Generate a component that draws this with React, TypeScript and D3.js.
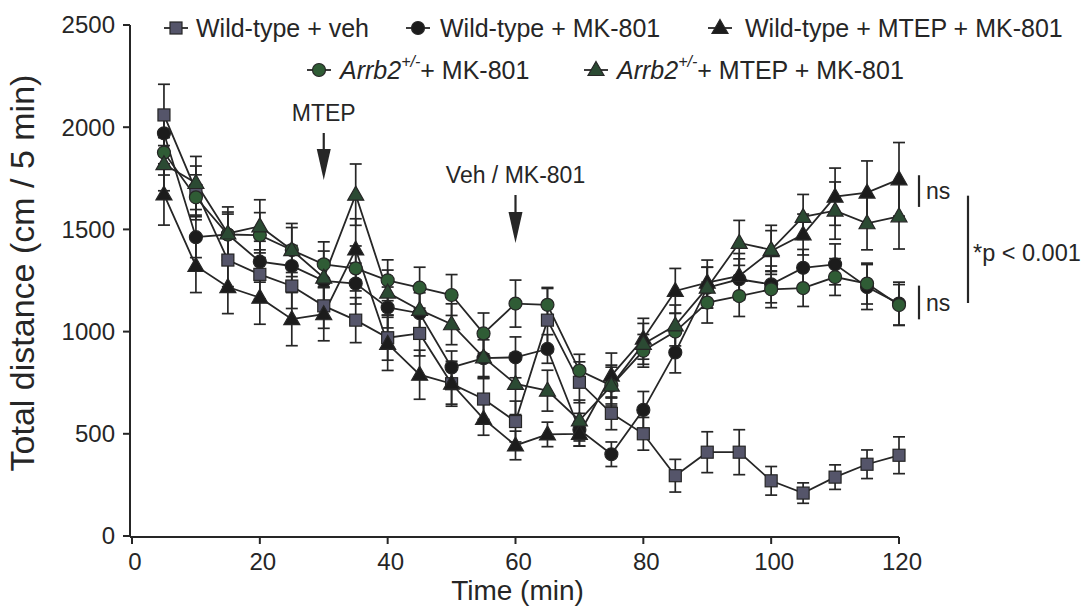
import React from "react";
import * as d3 from "d3";

const times = [5, 10, 15, 20, 25, 30, 35, 40, 45, 50, 55, 60, 65, 70, 75, 80, 85, 90, 95, 100, 105, 110, 115, 120];

const wtVeh = [2060, 1690, 1350, 1280, 1223, 1126, 1056, 970, 991, 745, 670, 560, 1056, 752, 600, 500, 295, 410, 410, 270, 210, 288, 351, 395];
const wtVehErr = [150, 120, 130, 120, 110, 110, 110, 110, 110, 110, 100, 100, 155, 100, 80, 80, 80, 100, 110, 70, 50, 60, 70, 90];

const wtMk = [1970, 1462, 1475, 1342, 1321, 1248, 1235, 1118, 1090, 825, 870, 874, 915, 520, 400, 617, 898, 1215, 1256, 1231, 1312, 1329, 1218, 1137];
const wtMkErr = [110, 100, 100, 100, 100, 100, 100, 100, 100, 80, 90, 100, 70, 80, 60, 90, 100, 100, 100, 90, 90, 100, 110, 105];

const wtMtep = [1671, 1321, 1218, 1166, 1061, 1085, 1402, 940, 789, 745, 573, 443, 497, 500, 785, 965, 1199, 1240, 1272, 1394, 1475, 1660, 1680, 1745];
const wtMtepErr = [150, 130, 130, 130, 130, 130, 150, 130, 120, 100, 80, 70, 60, 60, 110, 100, 110, 110, 110, 100, 100, 140, 155, 180];

const arMk = [1876, 1657, 1475, 1472, 1399, 1329, 1309, 1251, 1215, 1179, 991, 1137, 1131, 809, 736, 906, 1000, 1142, 1174, 1207, 1213, 1267, 1235, 1130];
const arMkErr = [110, 110, 110, 110, 110, 110, 110, 100, 100, 100, 100, 115, 85, 80, 90, 80, 90, 100, 100, 90, 90, 90, 100, 100];

const arMtep = [1819, 1727, 1480, 1515, 1399, 1264, 1670, 1191, 1106, 1036, 874, 744, 711, 565, 736, 940, 1030, 1215, 1434, 1400, 1561, 1592, 1530, 1564];
const arMtepErr = [130, 130, 130, 130, 130, 130, 150, 110, 100, 100, 100, 150, 100, 100, 100, 100, 100, 100, 110, 120, 110, 140, 130, 160];

const xTicks = [0, 20, 40, 60, 80, 100, 120];
const yTicks = [0, 500, 1000, 1500, 2000, 2500];

// injection arrows
const arrowTimes = [30, 60];
const arrowLabels = ["MTEP", "Veh / MK-801"];

// significance brackets: [low value, high value]
const nsUpper = [1610, 1765];
const nsLower = [1060, 1225];
const sigBig = [1140, 1665];

const FONT = "'Liberation Sans', Arial, Helvetica, sans-serif";
const INK = "#262626";

type Shape = "square" | "circle" | "triangle";
interface Series { name: string; vals: number[]; errs: number[]; shape: Shape; fill: string; }

const series: Series[] = [
  { name: "wtVeh", vals: wtVeh, errs: wtVehErr, shape: "square", fill: "#55556a" },
  { name: "wtMk", vals: wtMk, errs: wtMkErr, shape: "circle", fill: "#1c1c1c" },
  { name: "wtMtep", vals: wtMtep, errs: wtMtepErr, shape: "triangle", fill: "#1c1c1c" },
  { name: "arMk", vals: arMk, errs: arMkErr, shape: "circle", fill: "#2f5c35" },
  { name: "arMtep", vals: arMtep, errs: arMtepErr, shape: "triangle", fill: "#2b4a33" },
];

function Marker({ shape, x, y, fill }: { shape: Shape; x: number; y: number; fill: string }) {
  if (shape === "square") {
    return <rect x={x - 6} y={y - 6} width={12} height={12} fill={fill} stroke={INK} strokeWidth={1.2} />;
  }
  if (shape === "circle") {
    return <circle cx={x} cy={y} r={6.5} fill={fill} stroke={INK} strokeWidth={1.2} />;
  }
  const p = d3.path();
  p.moveTo(x, y - 8.5);
  p.lineTo(x + 8, y + 5.5);
  p.lineTo(x - 8, y + 5.5);
  p.closePath();
  return <path d={p.toString()} fill={fill} stroke={INK} strokeWidth={1.2} />;
}

export default function App() {
  const W = 1091, H = 609;
  const x = d3.scaleLinear().domain([0, 120]).range([132, 899]);
  const y = d3.scaleLinear().domain([0, 2500]).range([536, 25]);
  const axisX = 130;
  const line = d3.line<number>().x((_, i) => x(times[i])).y((v) => y(v));
  const cap = 6;

  const legendRow1 = [
    { s: series[0], mx: 176, tx: 196, label: "Wild-type + veh" },
    { s: series[1], mx: 418, tx: 440, label: "Wild-type + MK-801" },
    { s: series[2], mx: 720, tx: 745, label: "Wild-type + MTEP + MK-801" },
  ];
  const legendRow2 = [
    { s: series[3], mx: 319, tx: 340, label: "+ MK-801" },
    { s: series[4], mx: 596, tx: 617, label: "+ MTEP + MK-801" },
  ];

  return (
    <svg width={W} height={H} style={{ position: "absolute", left: 0, top: 0, background: "#fff" }} fontFamily={FONT}>
      <rect width={W} height={H} fill="#fff" />
      {/* axes */}
      <line x1={axisX} x2={axisX} y1={y(2500)} y2={y(0) + 1} stroke={INK} strokeWidth={2} />
      <line x1={axisX} x2={x(120)} y1={y(0) + 1} y2={y(0) + 1} stroke={INK} strokeWidth={2} />
      {yTicks.map((t) => (
        <g key={"yt" + t}>
          <line x1={axisX - 7} x2={axisX} y1={y(t)} y2={y(t)} stroke={INK} strokeWidth={2} />
          <text x={axisX - 15} y={y(t)} dy="0.35em" textAnchor="end" fontSize={24} fill={INK}>{t}</text>
        </g>
      ))}
      {xTicks.map((t) => (
        <g key={"xt" + t}>
          <line x1={x(t)} x2={x(t)} y1={y(0) + 1} y2={y(0) + 8} stroke={INK} strokeWidth={2} />
          <text x={x(t) + 3} y={y(0) + 34} textAnchor="middle" fontSize={24} fill={INK}>{t}</text>
        </g>
      ))}
      <text x={x(60) + 2} y={600} textAnchor="middle" fontSize={28} fill={INK}>Time (min)</text>
      <text transform={`translate(34, 273) rotate(-90)`} textAnchor="middle" fontSize={34} fill={INK}>
        Total distance (cm / 5 min)
      </text>

      {/* error bars */}
      {series.map((s) => (
        <g key={"e" + s.name} stroke={INK} strokeWidth={1.7}>
          {s.vals.map((v, i) => {
            const cx = x(times[i]);
            const top = y(v + s.errs[i]);
            const bot = y(v - s.errs[i]);
            return (
              <g key={i}>
                <line x1={cx} x2={cx} y1={top} y2={bot} />
                <line x1={cx - cap} x2={cx + cap} y1={top} y2={top} />
                <line x1={cx - cap} x2={cx + cap} y1={bot} y2={bot} />
              </g>
            );
          })}
        </g>
      ))}
      {/* lines */}
      {series.map((s) => (
        <path key={"l" + s.name} d={line(s.vals) || ""} fill="none" stroke={INK} strokeWidth={1.8} />
      ))}
      {/* markers */}
      {series.map((s) => (
        <g key={"m" + s.name}>
          {s.vals.map((v, i) => (
            <Marker key={i} shape={s.shape} x={x(times[i])} y={y(v)} fill={s.fill} />
          ))}
        </g>
      ))}

      {/* arrows */}
      {arrowTimes.map((t, k) => {
        const ax = x(t);
        const top = k === 0 ? 133 : 195;
        const tip = k === 0 ? 180 : 243;
        return (
          <g key={"a" + t}>
            <text x={ax} y={top - 12} textAnchor="middle" fontSize={23} fill={INK}>{arrowLabels[k]}</text>
            <line x1={ax} x2={ax} y1={top} y2={tip - 28} stroke={INK} strokeWidth={2.2} />
            <path d={`M${ax - 7},${tip - 31} L${ax + 7},${tip - 31} L${ax},${tip} Z`} fill={INK} />
          </g>
        );
      })}

      {/* significance */}
      <line x1={919} x2={919} y1={y(nsUpper[1])} y2={y(nsUpper[0])} stroke={INK} strokeWidth={2.2} />
      <text x={926} y={(y(nsUpper[0]) + y(nsUpper[1])) / 2} dy="0.35em" fontSize={23} fill={INK}>ns</text>
      <line x1={919} x2={919} y1={y(nsLower[1])} y2={y(nsLower[0])} stroke={INK} strokeWidth={2.2} />
      <text x={926} y={(y(nsLower[0]) + y(nsLower[1])) / 2} dy="0.35em" fontSize={23} fill={INK}>ns</text>
      <line x1={968} x2={968} y1={y(sigBig[1])} y2={y(sigBig[0])} stroke={INK} strokeWidth={2.2} />
      <text x={973} y={(y(sigBig[0]) + y(sigBig[1])) / 2 + 3} dy="0.35em" fontSize={23.5} fill={INK}>*p &lt; 0.001</text>

      {/* legend */}
      {legendRow1.map((l) => (
        <g key={l.label}>
          <line x1={l.mx - 12} x2={l.mx + 12} y1={28} y2={28} stroke={INK} strokeWidth={1.8} />
          <Marker shape={l.s.shape} x={l.mx} y={28} fill={l.s.fill} />
          <text x={l.tx} y={28} dy="0.35em" fontSize={25} fill={INK}>{l.label}</text>
        </g>
      ))}
      {legendRow2.map((l) => (
        <g key={l.label}>
          <line x1={l.mx - 12} x2={l.mx + 12} y1={70} y2={70} stroke={INK} strokeWidth={1.8} />
          <Marker shape={l.s.shape} x={l.mx} y={70} fill={l.s.fill} />
          <text x={l.tx} y={70} dy="0.35em" fontSize={25} fill={INK}>
            <tspan fontStyle="italic">Arrb2</tspan>
            <tspan fontStyle="italic" fontSize={16} dy="-0.75em">+/-</tspan>
            <tspan dy="0.48em">{l.label}</tspan>
          </text>
        </g>
      ))}
    </svg>
  );
}
